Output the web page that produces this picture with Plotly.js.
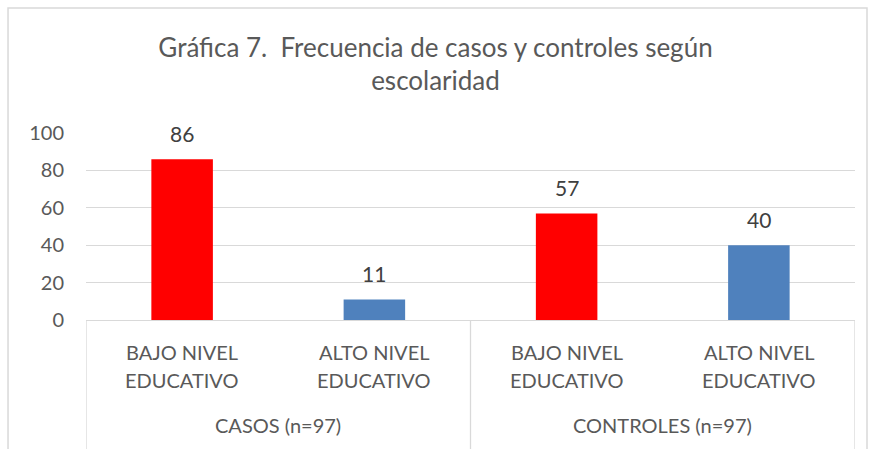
<!DOCTYPE html>
<html>
<head>
<meta charset="utf-8">
<script src="https://cdn.plot.ly/plotly-3.0.1.min.js"></script>
<style>html,body{margin:0;padding:0;background:#fff;}#chart{width:871px;height:449px;}</style>
</head>
<body>
<div id="chart"></div>
<script>
var categories = ["CASOS_BAJO", "CASOS_ALTO", "CONTROLES_BAJO", "CONTROLES_ALTO"];
var levelLine1 = ["BAJO NIVEL", "ALTO NIVEL", "BAJO NIVEL", "ALTO NIVEL"];
var levelLine2 = ["EDUCATIVO", "EDUCATIVO", "EDUCATIVO", "EDUCATIVO"];
var groups = ["CASOS (n=97)", "CONTROLES (n=97)"];
var groupCenters = [0.5, 2.5];
var values = [86, 11, 57, 40];
var barColors = ["#FF0000", "#4F81BD", "#FF0000", "#4F81BD"];
var yTicks = [0, 20, 40, 60, 80, 100];

var FONT = "Lato, 'Open Sans', sans-serif";
var TXT = "#595959";

var annotations = [];
categories.forEach(function (c, i) {
  annotations.push({x: c, y: values[i], xref: "x", yref: "y", text: String(values[i]),
    showarrow: false, yanchor: "bottom", yshift: 11, font: {family: FONT, size: 21, color: "#404040"}});
  annotations.push({x: c, y: 0, xref: "x", yref: "y", text: levelLine1[i], showarrow: false,
    yanchor: "middle", yshift: -32, font: {family: FONT, size: 20, color: TXT}});
  annotations.push({x: c, y: 0, xref: "x", yref: "y", text: levelLine2[i], showarrow: false,
    yanchor: "middle", yshift: -60, font: {family: FONT, size: 20, color: TXT}});
});
groups.forEach(function (g, i) {
  annotations.push({x: groupCenters[i], y: 0, xref: "x", yref: "y", text: g, showarrow: false,
    yanchor: "middle", yshift: -105, font: {family: FONT, size: 20, color: TXT}});
});

var shapes = [
  {type: "rect", xref: "paper", yref: "paper", x0: -0.1014, x1: 1.0156, y0: -0.8, y1: 1.668,
    line: {color: "#D9D9D9", width: 1.5}, fillcolor: "rgba(0,0,0,0)", layer: "below"}
];
[-0.5, 1.5, 3.5].forEach(function (xv) {
  shapes.push({type: "line", xref: "x", yref: "paper", x0: xv, x1: xv, y0: 0, y1: -0.8,
    line: {color: "#D9D9D9", width: 1.3}});
});

var trace = {
  type: "bar", x: categories, y: values, width: 0.32,
  marker: {color: barColors}, hoverinfo: "none"
};

var layout = {
  width: 871, height: 449,
  margin: {l: 86, r: 16, t: 133, b: 129},
  paper_bgcolor: "#fff", plot_bgcolor: "#fff",
  showlegend: false,
  title: {text: "Gráfica 7.  Frecuencia de casos y controles según<br>escolaridad",
    font: {family: FONT, size: 26, color: TXT}, x: 0.5, xanchor: "center", y: 0.874, yanchor: "top"},
  xaxis: {type: "category", range: [-0.5, 3.5], showticklabels: false, showgrid: false,
    showline: true, linecolor: "#D9D9D9", linewidth: 1.3, ticks: "", zeroline: false, fixedrange: true},
  yaxis: {range: [0, 100], tickvals: yTicks, showgrid: true, gridcolor: "#D9D9D9", gridwidth: 1.3,
    zeroline: false, showline: false, ticks: "", ticklabelstandoff: 21,
    tickfont: {family: FONT, size: 20, color: TXT}, fixedrange: true},
  annotations: annotations,
  shapes: shapes
};

Plotly.newPlot("chart", [trace], layout, {displayModeBar: false, staticPlot: true});
</script>
</body>
</html>
